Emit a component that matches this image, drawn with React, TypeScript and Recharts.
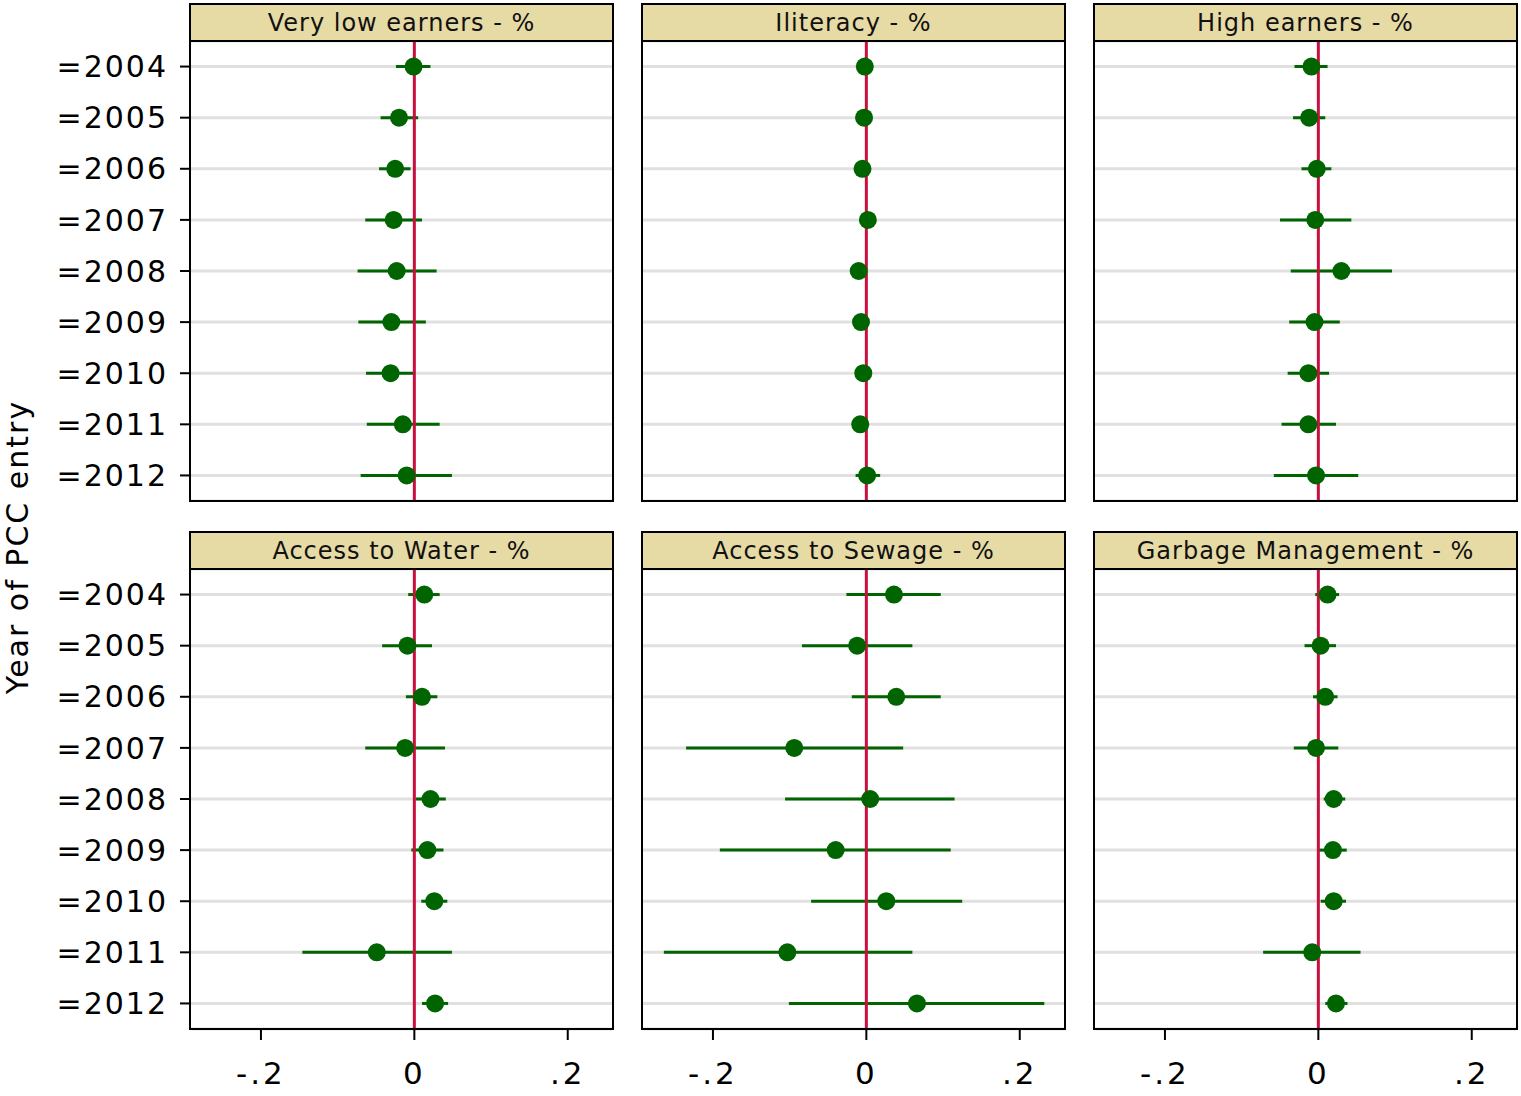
import React from 'react';
import { ScatterChart, Scatter, XAxis, YAxis, CartesianGrid, ErrorBar } from 'recharts';

const years = [2004, 2005, 2006, 2007, 2008, 2009, 2010, 2011, 2012];
const xTicks = [-0.2, 0, 0.2];

const veryLowEst = [-0.001, -0.02, -0.025, -0.027, -0.023, -0.03, -0.031, -0.015, -0.01];
const veryLowLo = [-0.024, -0.044, -0.046, -0.064, -0.074, -0.073, -0.063, -0.062, -0.07];
const veryLowHi = [0.021, 0.005, -0.005, 0.01, 0.029, 0.015, 0.001, 0.033, 0.049];

const illitEst = [-0.002, -0.003, -0.005, 0.002, -0.01, -0.007, -0.004, -0.008, 0.001];
const illitLo = [-0.008, -0.009, -0.011, -0.004, -0.016, -0.013, -0.01, -0.014, -0.014];
const illitHi = [0.004, 0.003, 0.001, 0.008, -0.004, -0.001, 0.002, -0.002, 0.018];

const highEst = [-0.009, -0.012, -0.002, -0.004, 0.03, -0.005, -0.013, -0.013, -0.003];
const highLo = [-0.031, -0.033, -0.022, -0.05, -0.036, -0.038, -0.04, -0.048, -0.058];
const highHi = [0.012, 0.009, 0.017, 0.043, 0.096, 0.028, 0.014, 0.023, 0.052];

const waterEst = [0.013, -0.009, 0.01, -0.012, 0.021, 0.017, 0.026, -0.049, 0.027];
const waterLo = [-0.008, -0.042, -0.011, -0.064, 0.002, -0.004, 0.009, -0.146, 0.01];
const waterHi = [0.033, 0.023, 0.03, 0.04, 0.041, 0.038, 0.043, 0.049, 0.044];

const sewageEst = [0.036, -0.012, 0.039, -0.094, 0.005, -0.04, 0.026, -0.103, 0.066];
const sewageLo = [-0.026, -0.084, -0.019, -0.235, -0.106, -0.191, -0.072, -0.264, -0.101];
const sewageHi = [0.097, 0.06, 0.097, 0.048, 0.115, 0.11, 0.125, 0.06, 0.232];

const garbageEst = [0.012, 0.003, 0.009, -0.003, 0.02, 0.019, 0.02, -0.008, 0.023];
const garbageLo = [-0.004, -0.018, -0.007, -0.032, 0.007, 0.001, 0.003, -0.072, 0.009];
const garbageHi = [0.027, 0.023, 0.025, 0.026, 0.035, 0.037, 0.036, 0.055, 0.038];

const panels = [
  { title: 'Very low earners - %', est: veryLowEst, lo: veryLowLo, hi: veryLowHi },
  { title: 'Iliteracy - %', est: illitEst, lo: illitLo, hi: illitHi },
  { title: 'High earners - %', est: highEst, lo: highLo, hi: highHi },
  { title: 'Access to Water - %', est: waterEst, lo: waterLo, hi: waterHi },
  { title: 'Access to Sewage - %', est: sewageEst, lo: sewageLo, hi: sewageHi },
  { title: 'Garbage Management - %', est: garbageEst, lo: garbageLo, hi: garbageHi },
];

const FONT = '"DejaVu Sans", Verdana, sans-serif';
const GREEN = '#006400';
const RED = '#c8103f';
const colX = [190, 642, 1094];
const rowY = [41, 569];
const plotW = 423;
const plotH = 460;
const headerH = 38;
const xAxisH = 70;

const fmtX = (v: number) => (v === 0 ? '0' : v.toFixed(1).replace('0.', '.'));
const fmtY = (v: number) => '=' + years[v - 1];

const zeroLine = [
  { x: 0, y: 0.5 },
  { x: 0, y: 9.5 },
];

function Panel({ idx }: { idx: number }) {
  const p = panels[idx];
  const col = idx % 3;
  const row = Math.floor(idx / 3);
  const isLeft = col === 0;
  const isBottom = row === 1;
  const left = isLeft ? 0 : colX[col];
  const width = colX[col] + plotW - left;
  const height = plotH + (isBottom ? xAxisH : 0);

  const data = years.map((yr, i) => ({
    x: p.est[i],
    y: i + 1,
    err: [p.est[i] - p.lo[i], p.hi[i] - p.est[i]],
  }));

  return (
    <>
      <div
        style={{
          position: 'absolute',
          left: colX[col] - 1,
          top: rowY[row] - headerH,
          width: plotW + 2,
          height: headerH + 1,
          boxSizing: 'border-box',
          border: '2px solid #000',
          background: '#e6daa5',
          textAlign: 'center',
          fontSize: 24,
          letterSpacing: 1,
          lineHeight: headerH - 1 + 'px',
          color: '#111',
        }}
      >
        {p.title}
      </div>
      <div style={{ position: 'absolute', left, top: rowY[row] }}>
        <ScatterChart width={width} height={height} margin={{ top: 0, right: 0, bottom: 0, left: 0 }}>
          <CartesianGrid horizontal vertical={false} stroke="#e0e0e0" strokeWidth={3} />
          <XAxis
            type="number"
            dataKey="x"
            domain={[-0.2925, 0.259]}
            ticks={xTicks}
            tickFormatter={fmtX}
            hide={!isBottom}
            height={xAxisH}
            axisLine={false}
            tickSize={11}
            tickMargin={22}
            tickLine={{ stroke: '#000', strokeWidth: 2 }}
            tick={{ fontSize: 31, fill: '#000', fontFamily: FONT, letterSpacing: 3 }}
            allowDataOverflow
          />
          <YAxis
            type="number"
            dataKey="y"
            domain={[0.5, 9.5]}
            reversed
            ticks={[1, 2, 3, 4, 5, 6, 7, 8, 9]}
            tickFormatter={fmtY}
            hide={!isLeft}
            width={190}
            axisLine={false}
            tickSize={10}
            tickMargin={12}
            tickLine={{ stroke: '#000', strokeWidth: 2 }}
            tick={{ fontSize: 30, fill: '#000', fontFamily: FONT, letterSpacing: 2 }}
            allowDataOverflow
          />
          <Scatter data={data} isAnimationActive={false} shape={() => <g />}>
            <ErrorBar dataKey="err" direction="x" width={0} stroke={GREEN} strokeWidth={3} />
          </Scatter>
          <Scatter
            data={zeroLine}
            isAnimationActive={false}
            line={{ stroke: RED, strokeWidth: 3 }}
            shape={() => <g />}
          />
          <Scatter
            data={data}
            isAnimationActive={false}
            shape={(props: any) => <circle cx={props.cx} cy={props.cy} r={9} fill={GREEN} />}
          />
        </ScatterChart>
      </div>
      <div
        style={{
          position: 'absolute',
          left: colX[col] - 1,
          top: rowY[row] - 1,
          width: plotW + 2,
          height: plotH + 2,
          boxSizing: 'border-box',
          border: '2px solid #000',
          pointerEvents: 'none',
        }}
      />
    </>
  );
}

export default function App() {
  return (
    <div
      style={{
        position: 'absolute',
        left: 0,
        top: 0,
        width: 1521,
        height: 1096,
        background: '#fff',
        fontFamily: FONT,
        overflow: 'hidden',
      }}
    >
      {panels.map((_, i) => (
        <Panel key={i} idx={i} />
      ))}
      <div
        style={{
          position: 'absolute',
          left: 18 - 200,
          top: 547 - 20,
          width: 400,
          height: 40,
          lineHeight: '40px',
          textAlign: 'center',
          fontSize: 30,
          letterSpacing: 2,
          transform: 'rotate(-90deg)',
          color: '#000',
        }}
      >
        Year of PCC entry
      </div>
    </div>
  );
}
